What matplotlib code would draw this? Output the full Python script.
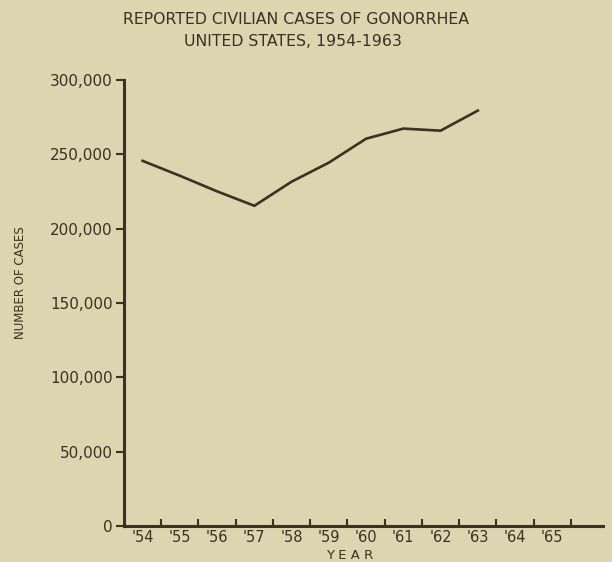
import matplotlib
matplotlib.use("Agg")
import matplotlib.pyplot as plt
from matplotlib.ticker import FuncFormatter

years = ["'54", "'55", "'56", "'57", "'58", "'59", "'60", "'61", "'62", "'63", "'64", "'65"]
cases = [245500, 235500, 225000, 215300, 231500, 244300, 260400, 267200, 265800, 279300]
yticks = [0, 50000, 100000, 150000, 200000, 250000, 300000]

bg = "#ddd4b0"
ink = "#3b3124"

plt.rcParams['font.family'] = ['DejaVu Sans']
fig = plt.figure(figsize=(6.12, 5.62), dpi=100, facecolor=bg)
ax = fig.add_axes([0.2026, 0.064, 0.782, 0.794], facecolor=bg)

x = list(range(len(cases)))
ax.plot(x, cases, color=ink, lw=1.9, solid_joinstyle='miter')

ax.set_xlim(-0.5, 12.35)
ax.set_ylim(0, 300000)

for s in ['top', 'right']:
    ax.spines[s].set_visible(False)
for s in ['left', 'bottom']:
    ax.spines[s].set_color(ink)
    ax.spines[s].set_linewidth(2.2)

ax.set_yticks(yticks)
ax.yaxis.set_major_formatter(FuncFormatter(lambda v, p: f"{int(v):,}"))
ax.tick_params(axis='y', direction='out', length=6, width=1.5, colors=ink, labelsize=11, pad=2)

ax.set_xticks(range(len(years)))
ax.set_xticklabels(years)
ax.set_xticks([i + 0.5 for i in range(len(years))], minor=True)
ax.tick_params(axis='x', which='major', length=0, colors=ink, labelsize=10.5, pad=3)
ax.tick_params(axis='x', which='minor', direction='in', length=5, width=1.5, colors=ink)

ax.set_xlabel("Y E A R", color=ink, fontsize=9.5)
ax.xaxis.set_label_coords((350 - 124) / 479, -(555 - 526) / 446)
ax.xaxis.label.set_va('center')
ax.set_ylabel("NUMBER OF CASES", color=ink, fontsize=8.5)
ax.yaxis.set_label_coords((20 - 124) / 479, (526 - 283) / 446)
ax.yaxis.label.set_va('center')

fig.text(296 / 612, 1 - 20 / 562, "REPORTED CIVILIAN CASES OF GONORRHEA", ha='center', va='center',
         color=ink, fontsize=11.3)
fig.text(293 / 612, 1 - 42 / 562, "UNITED STATES, 1954-1963", ha='center', va='center',
         color=ink, fontsize=11.3)

fig.savefig("out.png", dpi=100, facecolor=bg)
